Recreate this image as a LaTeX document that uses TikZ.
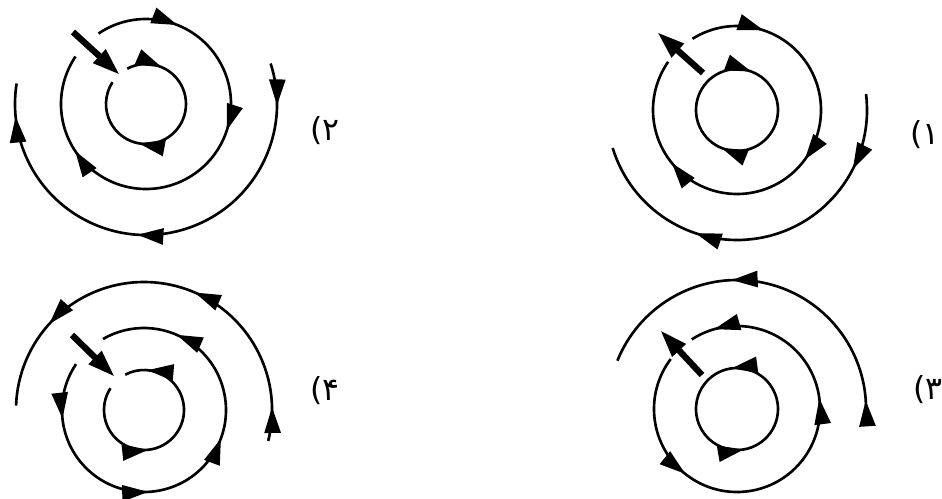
\documentclass[tikz,border=0pt]{standalone}
\usepackage{fontspec}
\usetikzlibrary{arrows.meta,decorations.markings}
\newfontfamily\numfont{DejaVu Sans}
\tikzset{
  /pgf/decoration/tip at/.style={mark=at position #1 with {\arrow{Triangle[length=5.2mm,width=3.2mm]}}},
  ring/.style={line width=1.5pt},
  tips/.style={postaction={decorate,decoration={markings,tip at/.list={#1}}}},
  probe/.style={line width=3.6pt,-{Triangle[length=5.6mm,width=3.4mm]}},
  tag/.style={font=\numfont\fontsize{18}{20}\selectfont,inner sep=0pt}
}

\begin{document}
\begin{tikzpicture}[x=0.2mm,y=0.2mm]
  \useasboundingbox (0,0) rectangle (942,498);
  \coordinate (tl) at (146,394);
  \coordinate (tr) at (737,388);
  \coordinate (bl) at (144,88);
  \coordinate (br) at (737,89);

  % (2): clockwise, probe pointing in
  \draw[ring,tips={0.155,0.66},shift={(tl)}] (118:40) arc[start angle=118,end angle=-213,radius=40];
  \draw[ring,tips={0.165,0.42,0.8},shift={(tl)}] (124:85) arc[start angle=124,end angle=-214,radius=85];
  \draw[ring,tips={0.09,0.54,0.93},shift={(tl)}] (18:131) arc[start angle=18,end angle=-189,radius=131];
  \coordinate (tl-s) at (73,466);
  \coordinate (tl-e) at (120,423);
  \draw[probe] (tl-s) -- (tl-e);
  \node[tag] (tl-tag) at (325,367) {(۲};

  % (1): clockwise, probe pointing out
  \draw[ring,tips={0.14,0.645},shift={(tr)}] (120:41) arc[start angle=120,end angle=-240,radius=41];
  \draw[ring,tips={0.15,0.47,0.78},shift={(tr)}] (122:84) arc[start angle=122,end angle=-215,radius=84];
  \draw[ring,tips={0.2,0.68},shift={(tr)}] (7:130) arc[start angle=7,end angle=-163,radius=130];
  \coordinate (tr-s) at (703,425);
  \coordinate (tr-e) at (657,466);
  \draw[probe] (tr-s) -- (tr-e);
  \node[tag] (tr-tag) at (925,363) {(۱};

  % (4): counter-clockwise, probe pointing in
  \draw[ring,tips={0.39,0.9},shift={(bl)}] (147:40) arc[start angle=147,end angle=478,radius=40];
  \draw[ring,tips={0.12,0.38,0.58,0.84},shift={(bl)}] (146:82) arc[start angle=146,end angle=480,radius=82];
  \draw[ring,tips={0.08,0.42,0.79},shift={(bl)}] (-14:128) arc[start angle=-14,end angle=178,radius=128];
  \coordinate (bl-s) at (72,163);
  \coordinate (bl-e) at (115,121);
  \draw[probe] (bl-s) -- (bl-e);
  \node[tag] (bl-tag) at (325,107) {(۴};

  % (3): counter-clockwise, probe pointing out
  \draw[ring,tips={0.36,0.855},shift={(br)}] (150:41) arc[start angle=150,end angle=510,radius=41];
  \draw[ring,tips={0.26,0.66,0.95},shift={(br)}] (143:83) arc[start angle=143,end angle=483,radius=83];
  \draw[ring,tips={0.06,0.6},shift={(br)}] (-6:129) arc[start angle=-6,end angle=158,radius=129];
  \coordinate (br-s) at (702,123);
  \coordinate (br-e) at (660,168);
  \draw[probe] (br-s) -- (br-e);
  \node[tag] (br-tag) at (928,108) {(۳};
\end{tikzpicture}
\end{document}
